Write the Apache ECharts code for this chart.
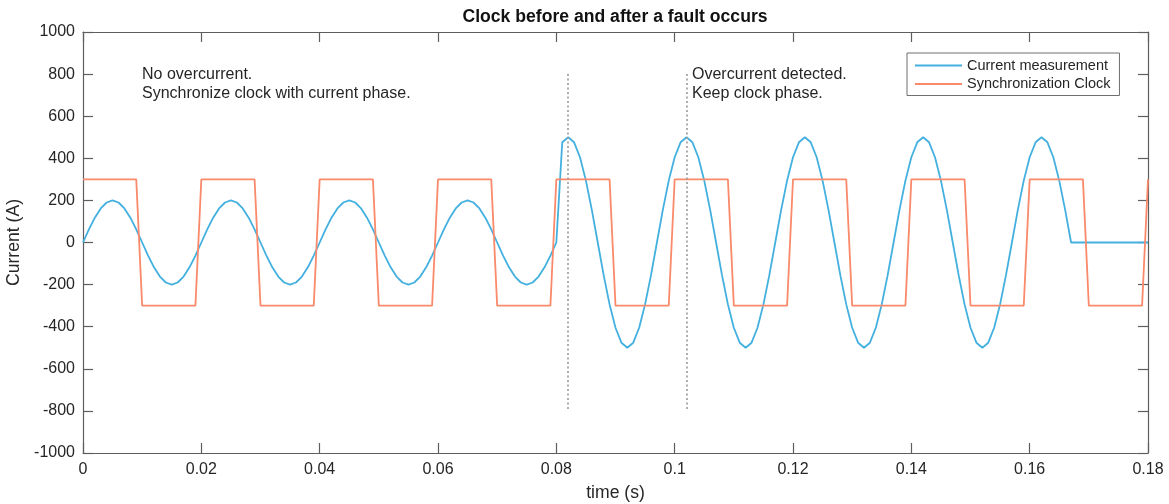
<!DOCTYPE html>
<html>
<head>
<meta charset="utf-8">
<script src="https://cdn.jsdelivr.net/npm/echarts@6/dist/echarts.min.js"></script>
<style>
html,body{margin:0;padding:0;background:#fff;}
#chart{width:1169px;height:504px;}
</style>
</head>
<body>
<div id="chart"></div>
<script>
// ---- data ----
const titleText = 'Clock before and after a fault occurs';
const seriesNames = ['Current measurement', 'Synchronization Clock'];
const sampleStep = 0.001;   // seconds between samples
const xTicks = [0, 0.02, 0.04, 0.06, 0.08, 0.1, 0.12, 0.14, 0.16, 0.18];
const yTicks = [-1000, -800, -600, -400, -200, 0, 200, 400, 600, 800, 1000];

// Current measurement (A), one value per sample, t = 0 ... 0.18 s
const currentValues = [
  0,62,118,162,190,200,190,162,118,62,0,-62,-118,-162,-190,-200,-190,-162,-118,-62,
  0,62,118,162,190,200,190,162,118,62,0,-62,-118,-162,-190,-200,-190,-162,-118,-62,
  0,62,118,162,190,200,190,162,118,62,0,-62,-118,-162,-190,-200,-190,-162,-118,-62,
  0,62,118,162,190,200,190,162,118,62,0,-62,-118,-162,-190,-200,-190,-162,-118,-62,
  0,476,
  500,476,405,294,155,0,-155,-294,-405,-476,-500,-476,-405,-294,-155,0,155,294,405,476,
  500,476,405,294,155,0,-155,-294,-405,-476,-500,-476,-405,-294,-155,0,155,294,405,476,
  500,476,405,294,155,0,-155,-294,-405,-476,-500,-476,-405,-294,-155,0,155,294,405,476,
  500,476,405,294,155,0,-155,-294,-405,-476,-500,-476,-405,-294,-155,0,155,294,405,476,
  500,476,405,294,155,0,
  0,0,0,0,0,0,0,0,0,0,0,0,0
];

// Synchronization clock (A), one value per sample, t = 0 ... 0.18 s
const clockValues = [
  300,300,300,300,300,300,300,300,300,300,-300,-300,-300,-300,-300,-300,-300,-300,-300,-300,
  300,300,300,300,300,300,300,300,300,300,-300,-300,-300,-300,-300,-300,-300,-300,-300,-300,
  300,300,300,300,300,300,300,300,300,300,-300,-300,-300,-300,-300,-300,-300,-300,-300,-300,
  300,300,300,300,300,300,300,300,300,300,-300,-300,-300,-300,-300,-300,-300,-300,-300,-300,
  300,300,300,300,300,300,300,300,300,300,-300,-300,-300,-300,-300,-300,-300,-300,-300,-300,
  300,300,300,300,300,300,300,300,300,300,-300,-300,-300,-300,-300,-300,-300,-300,-300,-300,
  300,300,300,300,300,300,300,300,300,300,-300,-300,-300,-300,-300,-300,-300,-300,-300,-300,
  300,300,300,300,300,300,300,300,300,300,-300,-300,-300,-300,-300,-300,-300,-300,-300,-300,
  300,300,300,300,300,300,300,300,300,300,-300,-300,-300,-300,-300,-300,-300,-300,-300,-300,
  300
];

// Dotted marker lines (time in s) and their vertical extent (A)
const markerTimes = [0.082, 0.102];
const markerExtent = [800, -800];

const noteLeft = ['No overcurrent.', 'Synchronize clock with current phase.'];
const noteRight = ['Overcurrent detected.', 'Keep clock phase.'];

// ---- build chart ----
const toPairs = vals => vals.map((v, i) => [+(i * sampleStep).toFixed(4), v]);
const FONT = '"Liberation Sans", Arial, Helvetica, sans-serif';
const TXT = '#262626';
const AX = '#5e5e5e';

const xMin = xTicks[0], xMax = xTicks[xTicks.length - 1], xInt = xTicks[1] - xTicks[0];
const yMin = yTicks[0], yMax = yTicks[yTicks.length - 1], yInt = yTicks[1] - yTicks[0];

const chart = echarts.init(document.getElementById('chart'), null, {renderer: 'canvas'});

const gridL = 83, gridR = 21, gridT = 32, gridB = 51;

function noteText(lines, x) {
  return lines.map((s, i) => ({
    type: 'text', left: x, top: 67 + i * 19, silent: true,
    style: {text: s, font: '16px ' + FONT, fill: TXT}
  }));
}

const plain = v => String(+v.toFixed(4));
const axLine = {show: true, onZero: false, lineStyle: {color: AX, width: 1.2}};
const axTick = {show: true, inside: true, length: 10, lineStyle: {color: AX, width: 1.2}};

chart.setOption({
  animation: false,
  backgroundColor: '#ffffff',
  title: {
    text: titleText, left: 615, top: 8, textAlign: 'center', padding: 0,
    textStyle: {fontFamily: FONT, fontSize: 17.6, fontWeight: 'bold', color: '#111'}
  },
  legend: {
    orient: 'vertical', left: 907, top: 53, padding: [5, 9, 4, 8],
    itemWidth: 47, itemHeight: 2, itemGap: 3.5, icon: 'rect',
    borderColor: '#6f6f6f', borderWidth: 1, backgroundColor: '#fff',
    textStyle: {fontFamily: FONT, fontSize: 14.5, color: TXT, lineHeight: 14},
    data: seriesNames
  },
  grid: {left: gridL, right: gridR, top: gridT, bottom: gridB, containLabel: false, outerBoundsMode: 'none'},
  xAxis: [{
    type: 'value', min: xMin, max: xMax, interval: xInt,
    name: 'time (s)', nameLocation: 'middle', nameGap: 31,
    nameTextStyle: {fontFamily: FONT, fontSize: 17.6, color: TXT},
    axisLine: axLine, axisTick: axTick,
    axisLabel: {fontFamily: FONT, fontSize: 16, color: TXT, margin: 9, formatter: plain},
    splitLine: {show: false}
  }, {
    type: 'value', position: 'top', min: xMin, max: xMax, interval: xInt,
    axisLine: axLine, axisTick: axTick,
    axisLabel: {show: false}, splitLine: {show: false}
  }],
  yAxis: [{
    type: 'value', min: yMin, max: yMax, interval: yInt,
    name: 'Current (A)', nameLocation: 'middle', nameGap: 56, nameRotate: 90,
    nameTextStyle: {fontFamily: FONT, fontSize: 17.6, color: TXT},
    axisLine: axLine, axisTick: axTick,
    axisLabel: {fontFamily: FONT, fontSize: 16, color: TXT, margin: 8, formatter: plain},
    splitLine: {show: false}
  }, {
    type: 'value', position: 'right', min: yMin, max: yMax, interval: yInt,
    axisLine: axLine, axisTick: axTick,
    axisLabel: {show: false}, splitLine: {show: false}
  }],
  series: [{
    name: seriesNames[0], type: 'line', xAxisIndex: 0, yAxisIndex: 0,
    data: toPairs(currentValues), showSymbol: false, symbol: 'none',
    itemStyle: {color: '#43b0df'},
    lineStyle: {color: '#43b0df', width: 1.8},
    z: 2,
    markLine: {
      silent: true, symbol: ['none', 'none'], label: {show: false},
      lineStyle: {color: '#9a9a9a', type: [2, 2.5], width: 1.6},
      data: markerTimes.map(t => [{coord: [t, markerExtent[0]]}, {coord: [t, markerExtent[1]]}])
    }
  }, {
    name: seriesNames[1], type: 'line', xAxisIndex: 0, yAxisIndex: 0,
    data: toPairs(clockValues), showSymbol: false, symbol: 'none',
    itemStyle: {color: '#fa8a6b'},
    lineStyle: {color: '#fa8a6b', width: 1.8},
    z: 3
  }],
  graphic: [...noteText(noteLeft, 142), ...noteText(noteRight, 692)]
});
</script>
</body>
</html>
